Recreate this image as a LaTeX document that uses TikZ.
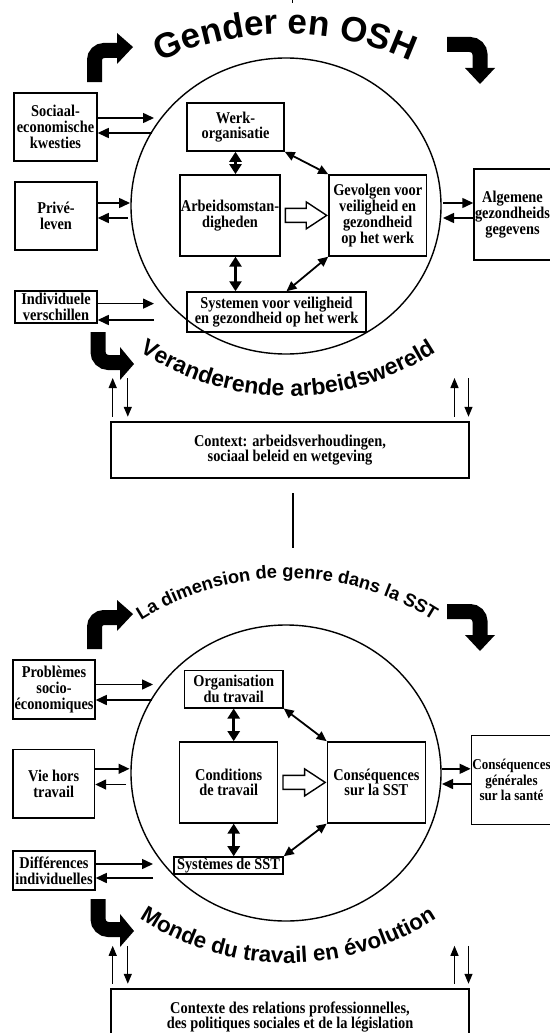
\documentclass[tikz,border=0pt]{standalone}
\usepackage{fontspec}
\setmainfont{Liberation Serif}
\newfontfamily\boxserif[FakeStretch=0.87]{Liberation Serif}
\newfontfamily\arcfont{Liberation Sans}
\usetikzlibrary{arrows.meta,decorations.text}
\newcommand{\boxfont}{\boxserif\bfseries\fontsize{16.5}{15.8}\selectfont}

\begin{document}
\begin{tikzpicture}[x=1pt,y=1pt,
  boxnode/.style={draw,line width=1.5pt,align=center,inner sep=1pt,font=\boxfont},
  sidearrow/.style={line width=1.5pt,-{Triangle[length=11pt,width=10pt]}},
  dblarrow/.style={line width=3pt,{Triangle[length=10pt,width=12pt]}-{Triangle[length=10pt,width=12pt]}},
  diagarrow/.style={line width=1.8pt,{Triangle[length=10pt,width=9pt]}-{Triangle[length=10pt,width=9pt]}},
  ctxarrow/.style={line width=1.3pt,-{Triangle[length=10pt,width=8pt]}},
  bentarrow/.style={line width=15pt},
  blockarrow/.style={draw,line width=1.4pt,fill=white,line join=miter},
  worldring/.style={line width=1.4pt}]
  \useasboundingbox (0,0) rectangle (549,-1033);
  \draw[line width=1.8pt] (292.5,0) -- (292.5,-3);
  \draw[line width=2pt] (292.7,-493) -- (292.7,-548);

  \foreach \s in {0,-567}{
    \begin{scope}[yshift=\s]
      \draw[worldring] (286,-206) ellipse [x radius=155,y radius=148];
      \draw[bentarrow] (94.5,-82) -- (94.5,-60) arc[start angle=180,end angle=90,radius=9.5] -- (118,-50.5);
      \fill (117,-33) -- (133,-47) -- (117,-64) -- cycle;
      \draw[bentarrow] (447,-44.5) -- (470,-44.5) arc[start angle=90,end angle=0,radius=10] -- (480,-69);
      \fill (465,-68) -- (480,-84) -- (495,-68) -- cycle;
      \draw[bentarrow] (98,-332) -- (98,-352) arc[start angle=180,end angle=270,radius=10.5] -- (121,-362.5);
      \fill (120,-347) -- (134,-364) -- (120,-380) -- cycle;
    \end{scope}
  }

  \path[decorate,decoration={text along path,text align=center,
    text={|\arcfont\bfseries\fontsize{35}{35}\selectfont|Gender en OSH}}]
    (285,-334) ++(135:300) arc[start angle=135,end angle=45,radius=300];
  \path[decorate,decoration={text along path,text align=center,
    text={|\arcfont\bfseries\fontsize{23}{23}\selectfont|Veranderende arbeidswereld}}]
    (288,-125) ++(215:271) arc[start angle=215,end angle=325,radius=271];

  \node[boxnode,minimum width=83,minimum height=68] (soc) at (55.5,-127) {Sociaal-\\economische\\kwesties};
  \node[boxnode,minimum width=82,minimum height=68] (priv) at (56,-216) {Privé-\\leven};
  \node[boxnode,minimum width=82,minimum height=32] (ind) at (56,-307) {Individuele\\verschillen};
  \node[boxnode,minimum width=97,minimum height=48] (werk) at (235.5,-127) {Werk-\\organisatie};
  \node[boxnode,minimum width=98,minimum height=81] (arb) at (230,-215.4) {Arbeidsomstan-\\digheden};
  \node[boxnode,minimum width=97.5,minimum height=81] (gev) at (377.7,-215.4) {Gevolgen voor\\veiligheid en\\gezondheid\\op het werk};
  \node[boxnode,minimum width=179,minimum height=40] (sys) at (276.5,-312) {Systemen voor veiligheid\\en gezondheid op het werk};
  \node[boxnode,minimum width=77,minimum height=91] (alg) at (512.5,-214.3) {Algemene\\gezondheids\\gegevens};
  \node[boxnode,minimum width=358,minimum height=56] (ctx) at (290,-450) {Context: arbeidsverhoudingen,\\sociaal beleid en wetgeving};

  \draw[dblarrow] (werk.south) -- (werk.south |- arb.north);
  \draw[dblarrow] (werk.south |- arb.south) -- (werk.south |- sys.north);
  \draw[diagarrow] (werk.south east) -- (gev.north west);
  \draw[diagarrow] ([xshift=10pt]sys.north) -- (gev.south west);
  \draw[blockarrow] ([xshift=4.5pt,yshift=7pt]arb.east) -- ([xshift=-22pt,yshift=7pt]gev.west)
    -- ([xshift=-22pt,yshift=13.5pt]gev.west) -- ([xshift=-1.5pt]gev.west)
    -- ([xshift=-22pt,yshift=-13.5pt]gev.west) -- ([xshift=-22pt,yshift=-7pt]gev.west)
    -- ([xshift=4.5pt,yshift=-7pt]arb.east) -- cycle;

  \coordinate (socin) at (154,-118);
  \coordinate (socout) at (152,-133);
  \coordinate (privin) at (130,-203);
  \coordinate (privout) at (128,-218);
  \coordinate (indin) at (154,-303.6);
  \coordinate (indout) at (154,-320);
  \coordinate (algout) at (443,-203);
  \coordinate (algin) at (443,-218);
  \draw[sidearrow] (soc.east |- socin) -- (socin);
  \draw[sidearrow] (socout) -- (soc.east |- socout);
  \draw[sidearrow] (priv.east |- privin) -- (privin);
  \draw[sidearrow] (privout) -- (priv.east |- privout);
  \draw[sidearrow] (ind.east |- indin) -- (indin);
  \draw[sidearrow] (indout) -- (ind.east |- indout);
  \draw[sidearrow] (algout) -- (alg.west |- algout);
  \draw[sidearrow] (alg.west |- algin) -- (algin);

  \coordinate (ctxlu) at (112.7,-378);
  \coordinate (ctxld) at (127.8,-378);
  \coordinate (ctxru) at (454.5,-378);
  \coordinate (ctxrd) at (468.5,-378);
  \draw[ctxarrow,shorten <=4.5pt] (ctxlu |- ctx.north) -- (ctxlu);
  \draw[ctxarrow,shorten >=4.5pt] (ctxld) -- (ctxld |- ctx.north);
  \draw[ctxarrow,shorten <=4.5pt] (ctxru |- ctx.north) -- (ctxru);
  \draw[ctxarrow,shorten >=4.5pt] (ctxrd) -- (ctxrd |- ctx.north);

  \path[decorate,decoration={text along path,text align=center,
    text={|\arcfont\bfseries\fontsize{18.3}{18.3}\selectfont|La dimension de genre dans la SST}}]
    (287,-850) ++(140:272) arc[start angle=140,end angle=40,radius=272];
  \path[decorate,decoration={text along path,text align=center,
    text={|\arcfont\bfseries\fontsize{22.3}{22.3}\selectfont|Monde du travail en évolution}}]
    (288,-692) ++(215:271) arc[start angle=215,end angle=325,radius=271];

  \node[boxnode,minimum width=82,minimum height=59] (prob) at (54,-689.5) {Problèmes\\socio-\\économiques};
  \node[boxnode,minimum width=81.5,minimum height=68.5] (vie) at (53.7,-783.7) {Vie hors\\travail};
  \node[boxnode,minimum width=82,minimum height=39] (dif) at (54,-870.5) {Différences\\individuelles};
  \node[boxnode,minimum width=98.5,minimum height=37.5] (org) at (233.7,-689) {Organisation\\du travail};
  \node[boxnode,minimum width=98,minimum height=81] (cond) at (228.7,-782.4) {Conditions\\de travail};
  \node[boxnode,minimum width=98,minimum height=81] (cons) at (376.4,-782.4) {Conséquences\\sur la SST};
  \node[boxnode,minimum width=109,minimum height=16] (syst) at (228.5,-865.5) {Systèmes de SST};
  \node[boxnode,font=\boxserif\bfseries\fontsize{15}{15.5}\selectfont,minimum width=79,minimum height=89] (gen) at (511.5,-780) {Conséquences\\générales\\sur la santé};
  \node[boxnode,minimum width=358,minimum height=56] (ctxb) at (290,-1017) {Contexte des relations professionnelles,\\des politiques sociales et de la législation};

  \draw[dblarrow] (org.south) -- (org.south |- cond.north);
  \draw[dblarrow] (org.south |- cond.south) -- (org.south |- syst.north);
  \draw[diagarrow] (org.south east) -- (cons.north west);
  \draw[diagarrow] (syst.north east) -- (cons.south west);
  \draw[blockarrow] ([xshift=4.5pt,yshift=7pt]cond.east) -- ([xshift=-22pt,yshift=7pt]cons.west)
    -- ([xshift=-22pt,yshift=13.5pt]cons.west) -- ([xshift=-1.5pt]cons.west)
    -- ([xshift=-22pt,yshift=-13.5pt]cons.west) -- ([xshift=-22pt,yshift=-7pt]cons.west)
    -- ([xshift=4.5pt,yshift=-7pt]cond.east) -- cycle;

  \coordinate (probin) at (153,-684.5);
  \coordinate (probout) at (152,-700);
  \coordinate (viein) at (129.5,-768.8);
  \coordinate (vieout) at (126,-784.5);
  \coordinate (difin) at (153,-864);
  \coordinate (difout) at (153,-878);
  \coordinate (genout) at (442,-768.8);
  \coordinate (genin) at (442,-784);
  \draw[sidearrow] (prob.east |- probin) -- (probin);
  \draw[sidearrow] (probout) -- (prob.east |- probout);
  \draw[sidearrow] (vie.east |- viein) -- (viein);
  \draw[sidearrow] (vieout) -- (vie.east |- vieout);
  \draw[sidearrow] (dif.east |- difin) -- (difin);
  \draw[sidearrow] (difout) -- (dif.east |- difout);
  \draw[sidearrow] (genout) -- (gen.west |- genout);
  \draw[sidearrow] (gen.west |- genin) -- (genin);

  \coordinate (ctxblu) at (112.7,-945.8);
  \coordinate (ctxbld) at (127.8,-945.8);
  \coordinate (ctxbru) at (454.5,-945.8);
  \coordinate (ctxbrd) at (468.5,-945.8);
  \draw[ctxarrow,shorten <=4.5pt] (ctxblu |- ctxb.north) -- (ctxblu);
  \draw[ctxarrow,shorten >=4.5pt] (ctxbld) -- (ctxbld |- ctxb.north);
  \draw[ctxarrow,shorten <=4.5pt] (ctxbru |- ctxb.north) -- (ctxbru);
  \draw[ctxarrow,shorten >=4.5pt] (ctxbrd) -- (ctxbrd |- ctxb.north);
\end{tikzpicture}
\end{document}
